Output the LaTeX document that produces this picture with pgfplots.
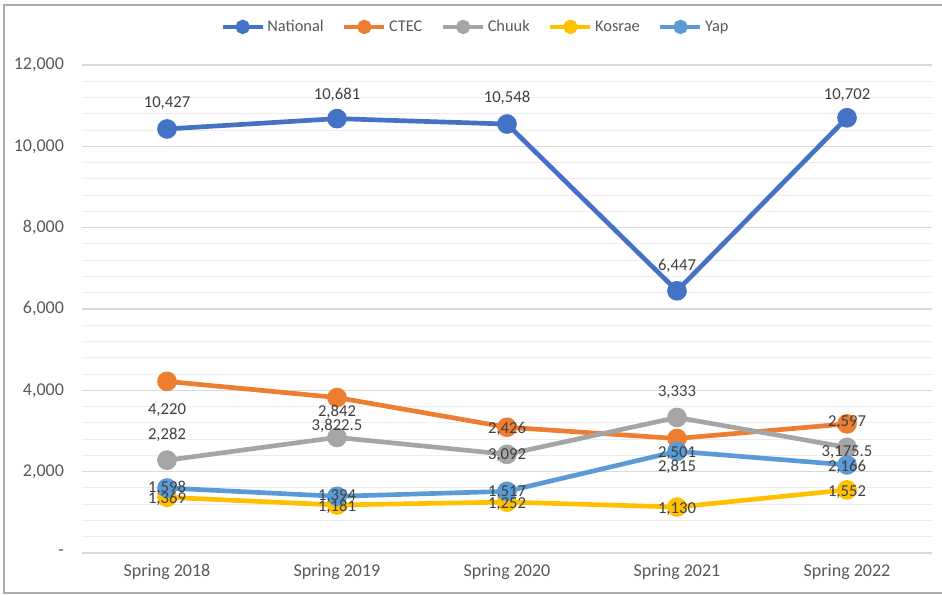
\documentclass[border=0pt]{standalone}
\usepackage{pgfplots}
\pgfplotsset{compat=1.18}
\usepackage{fontspec}
\setmainfont{Carlito}
\definecolor{cNat}{HTML}{4472C4}
\definecolor{cCtec}{HTML}{ED7D31}
\definecolor{cChuuk}{HTML}{A5A5A5}
\definecolor{cKos}{HTML}{FFC000}
\definecolor{cYap}{HTML}{5B9BD5}
\definecolor{cTick}{HTML}{595959}
\definecolor{cLab}{HTML}{404040}
\definecolor{cGrid}{HTML}{D9D9D9}
\definecolor{cMinor}{HTML}{EDEDED}
\begin{document}
\begin{tikzpicture}[x=1pt,y=1pt]
\path[use as bounding box] (0,0) rectangle (706.5,446.25);
\draw[color=gray!65, line width=0.9pt] (706.5,442.5) -- (3,442.5) -- (3,1.5) -- (706.5,1.5);
\begin{axis}[
  at={(61.5pt,31.5pt)}, anchor=south west,
  scale only axis, width=637.5pt, height=366pt,
  xmin=-0.5, xmax=4.5, ymin=0, ymax=12000,
  scaled y ticks=false,
  xtick={0,1,2,3,4},
  xticklabels={Spring 2018,Spring 2019,Spring 2020,Spring 2021,Spring 2022},
  ytick={0,2000,4000,6000,8000,10000,12000},
  yticklabels={{-},{2,000},{4,000},{6,000},{8,000},{10,000},{12,000}},
  minor y tick num=4,
  ymajorgrids, yminorgrids,
  major grid style={draw=cGrid, line width=0.9pt},
  minor grid style={draw=cMinor, line width=0.8pt},
  axis line style={draw=none},
  major tick style={draw=none}, minor tick style={draw=none},
  tick label style={font=\fontsize{13.5}{15}\selectfont, text=cTick},
  yticklabel style={xshift=-10pt},
  xticklabel style={yshift=-5pt},
  clip=false,
  legend columns=5,
  legend style={at={(0.4635,1.078)}, anchor=center, draw=none, fill=none,
    font=\fontsize{12.3}{14}\selectfont, text=cTick,
    /tikz/every even column/.append style={column sep=12pt},
    inner sep=0pt},
  legend image code/.code={
    \draw[line width=3pt] (0pt,0pt) -- (30pt,0pt);
    \fill (15pt,0pt) circle (3.6pt);
  },
  every axis plot/.append style={line width=3.5pt, mark=*, mark size=5.6pt},
]
\addplot[color=cNat] coordinates {(0,10427) (1,10681) (2,10548) (3,6447) (4,10702)};
\addlegendentry{National}
\addplot[color=cCtec] coordinates {(0,4220) (1,3822.5) (2,3092) (3,2815) (4,3175.5)};
\addlegendentry{CTEC}
\addplot[color=cChuuk] coordinates {(0,2282) (1,2842) (2,2426) (3,3333) (4,2597)};
\addlegendentry{Chuuk}
\addplot[color=cKos] coordinates {(0,1369) (1,1181) (2,1252) (3,1130) (4,1552)};
\addlegendentry{Kosrae}
\addplot[color=cYap] coordinates {(0,1598) (1,1394) (2,1517) (3,2501) (4,2166)};
\addlegendentry{Yap}
% data labels, placed where the reference shows them
\addplot[draw=none, mark=none, forget plot, point meta=explicit symbolic,
  nodes near coords, nodes near coords align=center,
  every node near coord/.append style={anchor=center, font=\fontsize{12.5}{14}\selectfont, text=cLab, inner sep=0pt}]
  coordinates {
  (0,11065) [10,427] (1,11262) [10,681] (2,11188) [10,548] (3,7057) [6,447] (4,11262) [10,702]
  (0,3516) [4,220] (1,3467) [2,842] (2,3049) [2,426] (3,2115) [2,815] (4,3221) [2,597]
  (0,2901) [2,282] (1,3123) [3,822.5] (2,2410) [3,092] (3,3959) [3,333] (4,2483) [3,175.5]
  (0,1328) [1,369] (1,1131) [1,181] (2,1205) [1,252] (3,1082) [1,130] (4,1500) [1,552]
  (0,1598) [1,598] (1,1402) [1,394] (2,1500) [1,517] (3,2459) [2,501] (4,2115) [2,166]
  };
\end{axis}
\end{tikzpicture}
\end{document}
